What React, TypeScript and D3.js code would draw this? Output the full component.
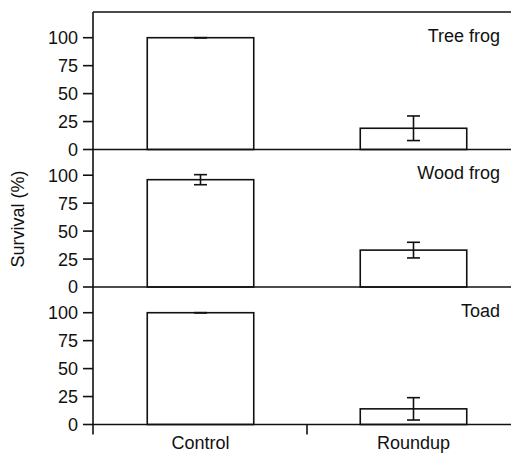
import React from "react";
import * as d3 from "d3";

const categories = ["Control", "Roundup"];
const species = ["Tree frog", "Wood frog", "Toad"];
const treeFrogMeans = [100, 19];
const treeFrogErrors = [0, 11];
const woodFrogMeans = [96, 33];
const woodFrogErrors = [4.5, 7];
const toadMeans = [100, 14];
const toadErrors = [0, 10];
const yTicks = [0, 25, 50, 75, 100];

const meansBySpecies = [treeFrogMeans, woodFrogMeans, toadMeans];
const errorsBySpecies = [treeFrogErrors, woodFrogErrors, toadErrors];

const W = 511;
const H = 453;
const left = 93;
const right = 520;
const top = 12;
const panelH = 137.5;
const font = "'Liberation Sans', Arial, Helvetica, sans-serif";
const fs = 18;
const sw = 1.6;

export default function App() {
  const x = d3
    .scaleBand<string>()
    .domain(categories)
    .range([left + 1, right])
    .paddingInner(0.5)
    .paddingOuter(0.25);
  const step = x.step();
  const bottom = top + panelH * species.length;

  return (
    <svg
      width={W}
      height={H}
      style={{ position: "absolute", left: 0, top: 0, background: "#fff" }}
      fontFamily={font}
    >
      <rect x={0} y={0} width={W} height={H} fill="#fff" />
      {species.map((sp, i) => {
        const pTop = top + i * panelH;
        const pBase = pTop + panelH;
        const y = d3.scaleLinear().domain([0, 123]).range([pBase, pTop]);
        const means = meansBySpecies[i];
        const errs = errorsBySpecies[i];
        return (
          <g key={sp}>
            {yTicks.map((t) => (
              <g key={t}>
                <line x1={left - 10} x2={left} y1={y(t)} y2={y(t)} stroke="#111" strokeWidth={sw} />
                <text x={left - 15} y={y(t)} dy="0.36em" textAnchor="end" fontSize={fs} fill="#111">
                  {t}
                </text>
              </g>
            ))}
            {categories.map((c, j) => {
              const bx = x(c) as number;
              const cx = bx + x.bandwidth() / 2;
              const m = means[j];
              const e = errs[j];
              return (
                <g key={c}>
                  <rect
                    x={bx}
                    y={y(m)}
                    width={x.bandwidth()}
                    height={y(0) - y(m)}
                    fill="#fff"
                    stroke="#111"
                    strokeWidth={sw}
                  />
                  <line x1={cx} x2={cx} y1={y(m + e)} y2={y(m - e)} stroke="#111" strokeWidth={sw} />
                  <line x1={cx - 6.5} x2={cx + 6.5} y1={y(m + e)} y2={y(m + e)} stroke="#111" strokeWidth={sw} />
                  <line x1={cx - 6.5} x2={cx + 6.5} y1={y(m - e)} y2={y(m - e)} stroke="#111" strokeWidth={sw} />
                </g>
              );
            })}
            <line x1={left} x2={W + 10} y1={pBase} y2={pBase} stroke="#111" strokeWidth={sw} />
            <text x={500} y={pTop + 29.5} textAnchor="end" fontSize={fs} fill="#111">
              {sp}
            </text>
          </g>
        );
      })}
      <line x1={left} x2={W + 10} y1={top} y2={top} stroke="#111" strokeWidth={sw} />
      <line x1={left} x2={left} y1={top} y2={bottom + 10} stroke="#111" strokeWidth={sw} />
      <line
        x1={left + 1 + step}
        x2={left + 1 + step}
        y1={bottom}
        y2={bottom + 10}
        stroke="#111"
        strokeWidth={sw}
      />
      {categories.map((c) => (
        <text
          key={c}
          x={(x(c) as number) + x.bandwidth() / 2}
          y={449}
          textAnchor="middle"
          fontSize={fs}
          fill="#111"
        >
          {c}
        </text>
      ))}
      <text
        transform={`translate(24, 219) rotate(-90)`}
        textAnchor="middle"
        fontSize={fs}
        fill="#111"
      >
        Survival (%)
      </text>
    </svg>
  );
}
